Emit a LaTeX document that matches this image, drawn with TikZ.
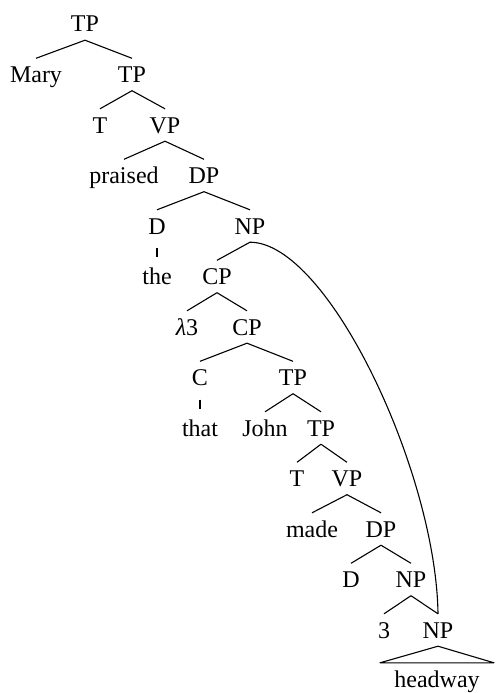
\documentclass[tikz,border=0pt]{standalone}
\usepackage{fontspec}
\setmainfont{Liberation Serif}
\usetikzlibrary{calc}
\begin{document}
\begin{tikzpicture}[x=1pt,y=-1pt,
  lab/.style={anchor=base, inner xsep=0pt, inner ysep=8pt, text height=16pt, text depth=0pt, font=\fontsize{24}{28}\selectfont},
  br/.style={line width=1.1pt},
  un/.style={line width=1.1pt, shorten <=6pt, shorten >=3pt}]
\useasboundingbox (0,0) rectangle (495,693);
% level baselines
\node[lab] (tp0) at (85,32) {TP};
\node[lab] (mary) at (36,82.5) {Mary};
\node[lab] (tp1) at (132,82.5) {TP};
\node[lab] (t1) at (100,133) {T};
\node[lab] (vp1) at (165,133) {VP};
\node[lab] (praised) at (124,183.5) {praised};
\node[lab] (dp1) at (204,183.5) {DP};
\node[lab] (d1) at (157,234) {D};
\node[lab] (np1) at (250,234) {NP};
\node[lab] (the) at (157,284.5) {the};
\node[lab] (cp1) at (217,284.5) {CP};
\node[lab] (lam) at (187,335) {{\itshape λ}3};
\node[lab] (cp2) at (247,335) {CP};
\node[lab] (c) at (200,385.5) {C};
\node[lab] (tp2) at (293,385.5) {TP};
\node[lab] (that) at (200,436) {that};
\node[lab] (john) at (265,436) {John};
\node[lab] (tp3) at (321,436) {TP};
\node[lab] (t2) at (297,486.5) {T};
\node[lab] (vp2) at (347,486.5) {VP};
\node[lab] (made) at (312,537) {made};
\node[lab] (dp2) at (381,537) {DP};
\node[lab] (d2) at (351,587.5) {D};
\node[lab] (np2) at (411,587.5) {NP};
\node[lab] (three) at (384,638) {3};
\node[lab] (np3) at (438,638) {NP};
\node[lab] (headway) at (437,687) {headway};
% branches
\draw[br] (tp0.south) -- (mary.north);
\draw[br] (tp0.south) -- (tp1.north);
\draw[br] (tp1.south) -- (t1.north);
\draw[br] (tp1.south) -- (vp1.north);
\draw[br] (vp1.south) -- (praised.north);
\draw[br] (vp1.south) -- (dp1.north);
\draw[br] (dp1.south) -- (d1.north);
\draw[br] (dp1.south) -- (np1.north);
\draw[un] (d1.south) -- (the.north);
\draw[br] (np1.south) -- (cp1.north);
\draw[br] (cp1.south) -- (lam.north);
\draw[br] (cp1.south) -- (cp2.north);
\draw[br] (cp2.south) -- (c.north);
\draw[br] (cp2.south) -- (tp2.north);
\draw[un] (c.south) -- (that.north);
\draw[br] (tp2.south) -- (john.north);
\draw[br] (tp2.south) -- (tp3.north);
\draw[br] (tp3.south) -- (t2.north);
\draw[br] (tp3.south) -- (vp2.north);
\draw[br] (vp2.south) -- (made.north);
\draw[br] (vp2.south) -- (dp2.north);
\draw[br] (dp2.south) -- (d2.north);
\draw[br] (dp2.south) -- (np2.north);
\draw[br] (np2.south) -- (three.north);
\draw[br] (np2.south) -- (np3.north);
\draw[br, line join=round] (np3.south) -- ($(headway.north)+(-57,0)$) -- ($(headway.north)+(57,0)$) -- cycle;
% curved connector
\draw[br] (np1.south) .. controls +(78,0) and +(-2,-142) .. (np3.north);
\end{tikzpicture}
\end{document}
